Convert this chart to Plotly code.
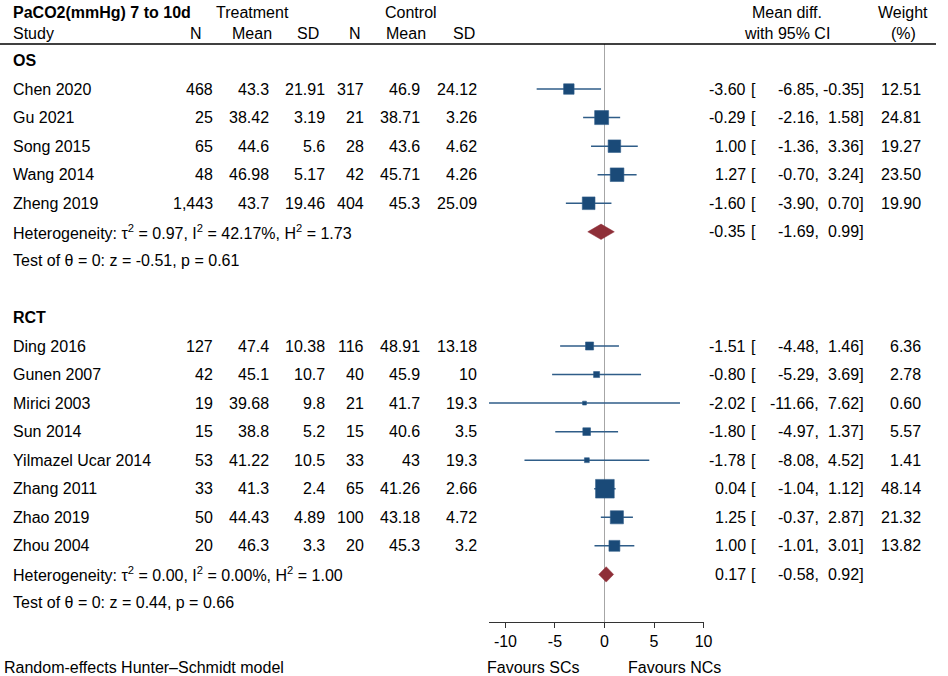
import plotly.graph_objects as go

# ---- data ----
os_study = ["Chen 2020", "Gu 2021", "Song 2015", "Wang 2014", "Zheng 2019"]
os_n_t = [468, 25, 65, 48, 1443]
os_mean_t = [43.3, 38.42, 44.6, 46.98, 43.7]
os_sd_t = [21.91, 3.19, 5.6, 5.17, 19.46]
os_n_c = [317, 21, 28, 42, 404]
os_mean_c = [46.9, 38.71, 43.6, 45.71, 45.3]
os_sd_c = [24.12, 3.26, 4.62, 4.26, 25.09]
os_md = [-3.60, -0.29, 1.00, 1.27, -1.60]
os_lo = [-6.85, -2.16, -1.36, -0.70, -3.90]
os_hi = [-0.35, 1.58, 3.36, 3.24, 0.70]
os_w = [12.51, 24.81, 19.27, 23.50, 19.90]
os_pool = [-0.35, -1.69, 0.99]
os_het = ["0.97", "42.17", "1.73"]
os_test = ["-0.51", "0.61"]

rct_study = ["Ding 2016", "Gunen 2007", "Mirici 2003", "Sun 2014",
             "Yilmazel Ucar 2014", "Zhang 2011", "Zhao 2019", "Zhou 2004"]
rct_n_t = [127, 42, 19, 15, 53, 33, 50, 20]
rct_mean_t = [47.4, 45.1, 39.68, 38.8, 41.22, 41.3, 44.43, 46.3]
rct_sd_t = [10.38, 10.7, 9.8, 5.2, 10.5, 2.4, 4.89, 3.3]
rct_n_c = [116, 40, 21, 15, 33, 65, 100, 20]
rct_mean_c = [48.91, 45.9, 41.7, 40.6, 43, 41.26, 43.18, 45.3]
rct_sd_c = [13.18, 10, 19.3, 3.5, 19.3, 2.66, 4.72, 3.2]
rct_md = [-1.51, -0.80, -2.02, -1.80, -1.78, 0.04, 1.25, 1.00]
rct_lo = [-4.48, -5.29, -11.66, -4.97, -8.08, -1.04, -0.37, -1.01]
rct_hi = [1.46, 3.69, 7.62, 1.37, 4.52, 1.12, 2.87, 3.01]
rct_w = [6.36, 2.78, 0.60, 5.57, 1.41, 48.14, 21.32, 13.82]
rct_pool = [0.17, -0.58, 0.92]
rct_het = ["0.00", "0.00", "1.00"]
rct_test = ["0.44", "0.66"]

ticks = [-10, -5, 0, 5, 10]

# ---- geometry (pixels) ----
W, H = 948, 676
ROW0, ROWH = 60.5, 28.55      # pixel of row 0 and row height
AXIS_PX = 622                  # x axis line
ZERO_PX, PX_PER = 610.3, 10.0  # x=0 position and px per unit
FONT = "Liberation Sans, Arial, sans-serif"
NAVY = "#1a4a78"
MAROON = "#8e2f38"

xmin = min(os_lo + rct_lo)
xmax = max(ticks)


def row_of(px):
    return (px - ROW0) / ROWH


def px_x(px):
    return px / W


fig = go.Figure()
ann = []


def txt(x, y, s, anchor="left", bold=False, yref="y"):
    ann.append(dict(x=px_x(x), xref="paper", y=y, yref=yref, text=("<b>%s</b>" % s) if bold else s,
                    xanchor=anchor, yanchor="middle", showarrow=False, borderpad=0,
                    font=dict(family=FONT, size=16, color="#000")))


def group(label, start, study, nt, mt, st, nc, mc, sc, md, lo, hi, w, pool, het, test):
    txt(12, start, label, bold=True)
    rows = [start + 1 + i for i in range(len(study))]
    for i, r in enumerate(rows):
        txt(12, r, study[i])
        txt(216, r, f"{nt[i]:,}", "right")
        txt(273, r, f"{mt[i]:g}", "right")
        txt(329, r, f"{st[i]:g}", "right")
        txt(369, r, f"{nc[i]:,}", "right")
        txt(425, r, f"{mc[i]:g}", "right")
        txt(483, r, f"{sc[i]:g}", "right")
        txt(754, r, f"{md[i]:.2f}", "right")
        txt(757, r, "[")
        txt(828, r, f"{lo[i]:.2f},", "right")
        txt(873, r, f"{hi[i]:.2f}]", "right")
        txt(931, r, f"{w[i]:.2f}", "right")
    # CI lines
    xs, ys = [], []
    for i, r in enumerate(rows):
        xs += [lo[i], hi[i], None]
        ys += [r, r, None]
    fig.add_trace(go.Scatter(x=xs, y=ys, mode="lines", line=dict(color="#2f5d88", width=1.5),
                             hoverinfo="skip", showlegend=False))
    fig.add_trace(go.Scatter(x=md, y=rows, mode="markers",
                             marker=dict(symbol="square", color=NAVY, opacity=1,
                                         size=[2.0 + 2.4 * v ** 0.5 for v in w],
                                         line=dict(color="#2f5d88", width=0.6)),
                             showlegend=False))
    pr = rows[-1] + 1
    h = 0.27
    fig.add_trace(go.Scatter(x=[pool[1], pool[0], pool[2], pool[0], pool[1]],
                             y=[pr, pr - h, pr, pr + h, pr], mode="lines", fill="toself",
                             fillcolor=MAROON, line=dict(color=MAROON, width=0.5),
                             showlegend=False, hoverinfo="skip"))
    txt(12, pr, f"Heterogeneity: τ<sup>2</sup> = {het[0]}, I<sup>2</sup> = {het[1]}%, H<sup>2</sup> = {het[2]}")
    txt(754, pr, f"{pool[0]:.2f}", "right")
    txt(757, pr, "[")
    txt(828, pr, f"{pool[1]:.2f},", "right")
    txt(873, pr, f"{pool[2]:.2f}]", "right")
    txt(12, pr + 1, f"Test of θ = 0: z = {test[0]}, p = {test[1]}")
    return pr + 1


end_os = group("OS", 0, os_study, os_n_t, os_mean_t, os_sd_t, os_n_c, os_mean_c, os_sd_c,
               os_md, os_lo, os_hi, os_w, os_pool, os_het, os_test)
end_rct = group("RCT", end_os + 2, rct_study, rct_n_t, rct_mean_t, rct_sd_t, rct_n_c, rct_mean_c,
                rct_sd_c, rct_md, rct_lo, rct_hi, rct_w, rct_pool, rct_het, rct_test)

# header
txt(12, row_of(12), "PaCO2(mmHg) 7 to 10d", bold=True)
txt(217, row_of(12), "Treatment")
txt(388, row_of(12), "Control")
txt(12, row_of(33), "Study")
for x, s in [(205, "N"), (276, "Mean"), (323, "SD"), (365, "N"), (431, "Mean"), (481, "SD")]:
    txt(x, row_of(33), s, "right")
txt(795, row_of(12), "Mean diff.", "center")
txt(795, row_of(33), "with 95% CI", "center")
txt(912, row_of(12), "Weight", "center")
txt(912, row_of(33), "(%)", "center")

# bottom labels (below the axis, so in paper units)
yb = 1 - 667 / H
txt(538, yb, "Favours SCs", "center", yref="paper")
txt(681, yb, "Favours NCs", "center", yref="paper")
txt(3, yb, "Random-effects Hunter–Schmidt model", yref="paper")

bottom = row_of(AXIS_PX)
top = row_of(0)
shapes = [
    dict(type="line", xref="paper", yref="y", x0=0, x1=945 / W, y0=row_of(44), y1=row_of(44),
         line=dict(color="#000", width=1.3)),
    dict(type="line", xref="x", yref="y", x0=0, x1=0, y0=row_of(44), y1=bottom, layer="below",
         line=dict(color="#a6a6a6", width=1)),
]

x0px = ZERO_PX + xmin * PX_PER
x1px = ZERO_PX + xmax * PX_PER
fig.update_layout(
    width=W, height=H, autosize=False, margin=dict(l=0, r=0, t=0, b=0, pad=0),
    paper_bgcolor="white", plot_bgcolor="white",
    annotations=ann, shapes=shapes, showlegend=False,
    xaxis=dict(domain=[x0px / W, x1px / W], range=[xmin, xmax], tickvals=ticks,
               ticktext=[str(t) for t in ticks],
               showgrid=False, zeroline=False, showline=True, linecolor="#333", linewidth=1,
               ticks="outside", ticklen=5, tickcolor="#333",
               tickfont=dict(family=FONT, size=16, color="#000")),
    yaxis=dict(domain=[(H - AXIS_PX) / H, 1], range=[bottom, top], visible=False),
)

fig.write_html("out.html", config={"displayModeBar": False, "responsive": False},
               post_script="document.body.style.margin='0';"
                           "document.body.style.overflow='hidden';"
                           "document.documentElement.style.overflow='hidden';")
